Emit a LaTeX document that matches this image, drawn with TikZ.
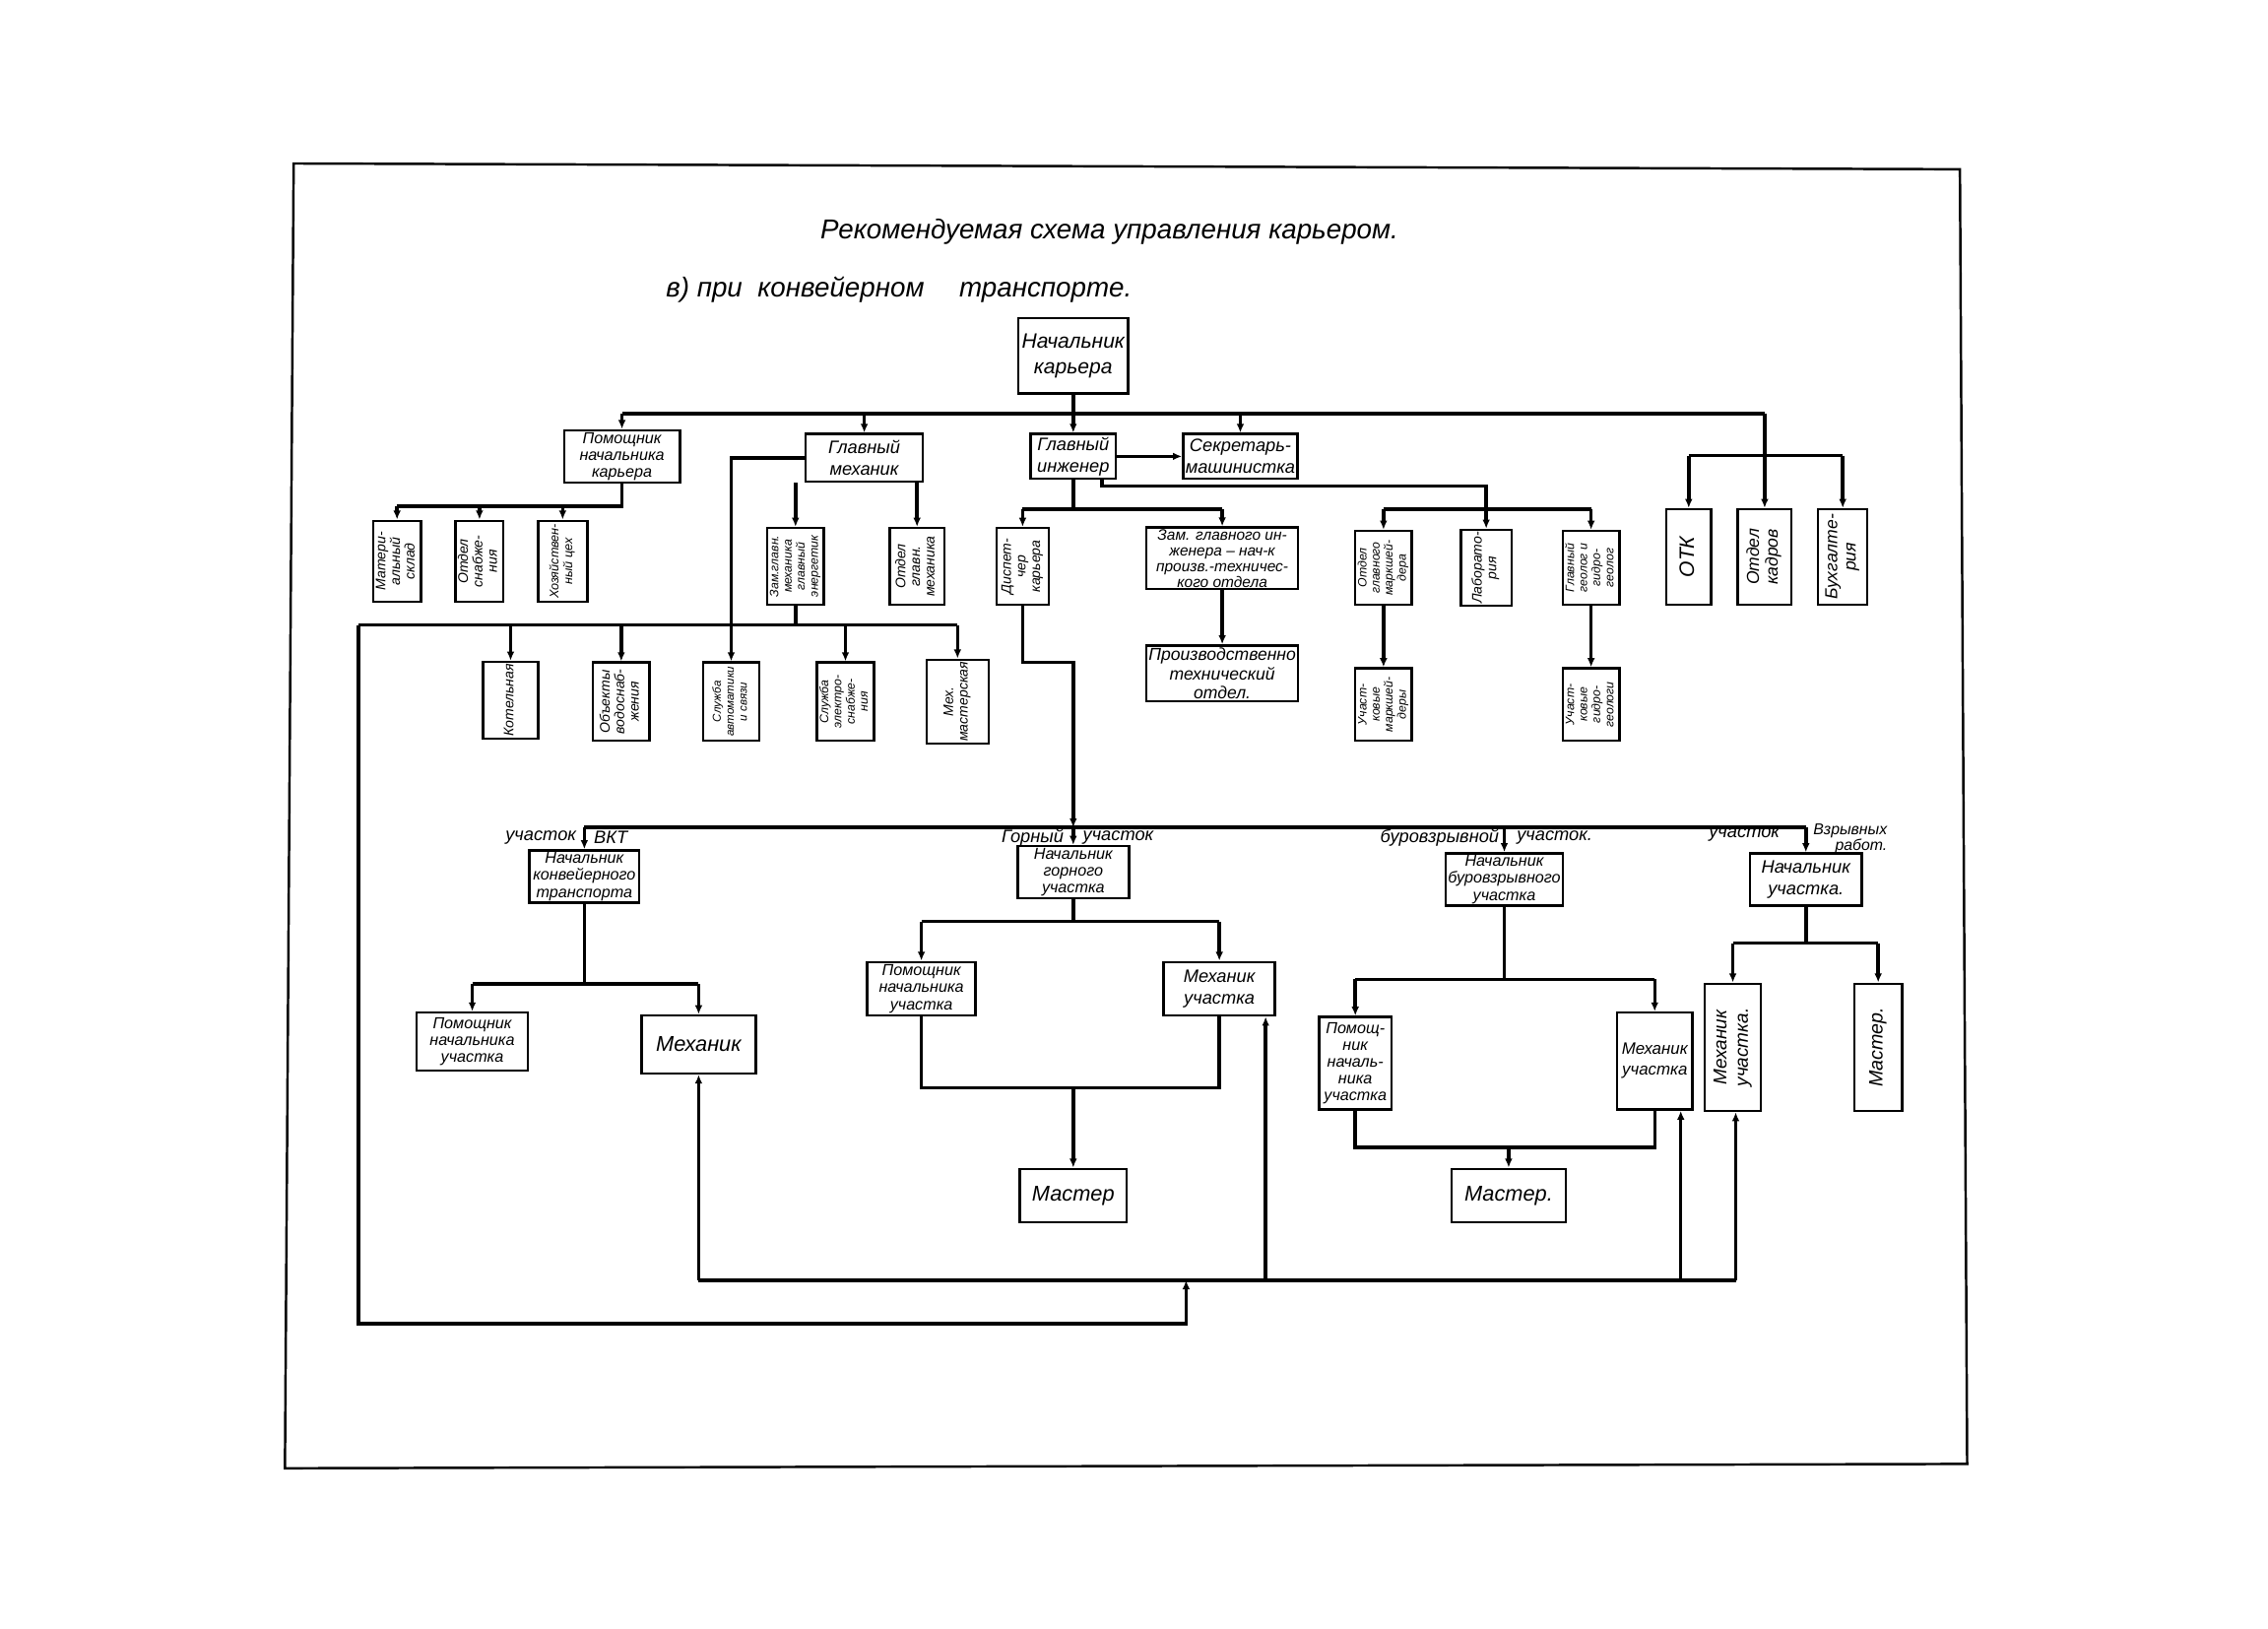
\documentclass[tikz,border=0pt]{standalone}
\usepackage{fontspec}
\setmainfont{Liberation Sans}
\usepackage{graphicx}
\usetikzlibrary{arrows.meta,calc}
\newcommand\vt[1]{\rotatebox{90}{\begin{tabular}{@{}c@{}}#1\end{tabular}}}
\newcommand\fz[2]{\fontsize{#1}{#2}\selectfont\itshape}
\begin{document}
\begin{tikzpicture}[x=0.14688mm, y=-0.14688mm,
  box/.style={draw, line width=0.7pt, inner sep=0.6pt, align=center, font=\fz{5}{5.6}},
  sz/.style 2 args={minimum width=#1*0.14688mm, minimum height=#2*0.14688mm},
  fbig/.style={font=\fz{6}{7.5}},
  fmid/.style={font=\fz{5.2}{6.2}},
  fsm/.style={font=\fz{4.6}{4.9}},
  fvt/.style={font=\fz{4}{4.2}},
  fvs/.style={font=\fz{3.5}{3.8}},
  ln/.style={line width=1pt},
  ar/.style={line width=1pt, -{Latex[length=2.6pt,width=2.2pt]}},
  lab/.style={inner sep=0.5pt, font=\fz{5.2}{5.2}}]
\useasboundingbox (0,0) rectangle (1568,1126);
\draw[line width=0.7pt] (203,113) -- (1355,117) -- (1360,1012) -- (197,1015) -- cycle;

% titles
\node (title) at (767,160) {\fz{7.9}{10}Рекомендуемая схема управления карьером.};
\node[anchor=west,inner sep=0pt] (sub) at (460,200) {\fz{7.9}{10}в)\ при\ \ конвейерном\quad\ транспорте.};

% top level
\node[box,fbig,sz={76}{52}] (N0) at (742,246) {Начальник\\карьера};
\node[box,fsm,sz={80}{35}] (P1) at (430,315.5) {Помощник\\начальника\\карьера};
\node[box,fmid,sz={81}{33}] (GM) at (597.5,316.5) {Главный\\механик};
\node[box,fmid,sz={59}{31}] (GI) at (742,315.5) {Главный\\инженер};
\node[box,fmid,sz={79}{31}] (SM) at (857.5,315.5) {Секретарь-\\машинистка};

\node[box,fbig,sz={31}{66}] (OTK) at (1167.5,385) {\vt{ОТК}};
\node[box,font=\fz{5}{5.4},sz={37}{66}] (OKD) at (1220,385) {\vt{Отдел\\кадров}};
\node[box,font=\fz{5}{5.4},sz={34}{66}] (BUH) at (1274,385) {\vt{Бухгалте-\\рия}};

% under assistant
\node[box,fvt,sz={31}{56}] (A1) at (274.5,388) {\vt{Матери-\\альный\\склад}};
\node[box,fvt,sz={33}{56}] (A2) at (331.5,388) {\vt{Отдел\\снабже-\\ния}};
\node[box,font=\fz{3.6}{4},sz={34}{56}] (A3) at (389,388) {\vt{Хозяйствен-\\ный цех}};

% under chief mechanic
\node[box,fvs,sz={34}{53}] (ZGM) at (550,391.5) {\vt{Зам.главн.\\механика\\главный\\энергетик}};
\node[box,fvt,sz={38}{53}] (OGM) at (634,391.5) {\vt{Отдел\\главн.\\механика}};

\node[box,fvt,sz={38}{52}] (K1) at (353,484) {\vt{Котельная}};
\node[box,fvt,sz={39}{54}] (K2) at (429.5,485) {\vt{Объекты\\водоснаб-\\жения}};
\node[box,font=\fz{3.3}{3.8},sz={39}{54}] (K3) at (505.5,485) {\vt{Служба\\автоматики\\и связи}};
\node[box,fvs,sz={39}{54}] (K4) at (584.5,485) {\vt{Служба\\электро-\\снабже-\\ния}};
\node[box,fvt,sz={43}{54}] (K5) at (662,485) {\vt{Мех.\\мастерская}};

% under chief engineer
\node[box,fvt,sz={36}{53}] (DK) at (707,391.5) {\vt{Диспет-\\чер\\карьера}};
\node[box,font=\fz{4.4}{4.5},sz={105}{42}] (ZGI) at (845,386) {Зам. главного ин-\\женера -- нач-к\\произв.-техничес-\\кого отдела};
\node[box,font=\fz{5}{5.6},sz={105}{37}] (PTO) at (845,465.5) {Производственно\\технический\\отдел.};
\node[box,fvs,sz={39}{51}] (OMG) at (956.5,392.5) {\vt{Отдел\\главного\\маркшей-\\дера}};
\node[box,fvt,sz={35}{51}] (LAB) at (1027.5,392.5) {\vt{Лаборато-\\рия}};
\node[box,fvs,sz={36}{51}] (GG) at (1100,392.5) {\vt{Главный\\геолог и\\гидро-\\геолог}};
\node[box,fvs,sz={39}{50}] (UM) at (956.5,487) {\vt{Участ-\\ковые\\маркшей-\\деры}};
\node[box,fvs,sz={36}{50}] (UG) at (1100,487) {\vt{Участ-\\ковые\\гидро-\\геологи}};

% sections
\node[box,fsm,sz={76}{36}] (NKT) at (404,606) {Начальник\\конвейерного\\транспорта};
\node[box,fsm,sz={77}{36}] (NGU) at (742,603) {Начальник\\горного\\участка};
\node[box,fsm,sz={76}{36}] (NBV) at (1040,608) {Начальник\\буровзрывного\\участка};
\node[box,fmid,sz={77}{36}] (NU) at (1248.5,608) {Начальник\\участка.};

\node[lab,anchor=east] (l1) at (400,579) {участок};
\node[lab,anchor=west] (l2) at (409,579) {ВКТ};
\node[lab,anchor=east] (l3) at (737,579) {Горный};
\node[lab,anchor=west] (l4) at (747,579) {участок};
\node[lab,anchor=east] (l5) at (1038,579) {буровзрывной};
\node[lab,anchor=west] (l6) at (1047,579) {участок.};
\node[lab,anchor=east] (l7) at (1232,577) {участок};
\node[lab,anchor=west,align=right,font=\fz{4.5}{4.6}] (l8) at (1252,580) {Взрывных\\работ.};

\node[box,fsm,sz={77}{40}] (PK) at (326.5,720) {Помощник\\начальника\\участка};
\node[box,font=\fz{6.2}{7},sz={79}{40}] (MK) at (483,722) {Механик};
\node[box,fsm,sz={75}{37}] (PG) at (637,683.5) {Помощник\\начальника\\участка};
\node[box,fmid,sz={77}{37}] (MG) at (843,683.5) {Механик\\участка};
\node[box,font=\fz{6.2}{7},sz={74}{37}] (MAG) at (742,826.5) {Мастер};
\node[box,fsm,sz={50}{64}] (PB) at (937,735) {Помощ-\\ник\\началь-\\ника\\участка};
\node[box,font=\fz{4.8}{6},sz={52}{67}] (MB) at (1144,733.5) {Механик\\участка};
\node[box,font=\fz{6.2}{7},sz={79}{37}] (MAB) at (1043,826.5) {Мастер.};
\node[box,font=\fz{5.4}{6.2},sz={39}{88}] (MV) at (1198,724) {\vt{Механик\\участка.}};
\node[box,font=\fz{5.6}{6.2},sz={33}{88}] (MAV) at (1298.5,724) {\vt{Мастер.}};

% ---- connectors ----
\coordinate (b0L) at (430,286);
\coordinate (b0R) at (1220,286);
\draw[ln] (N0.south) -- (N0.south |- b0L);
\draw[ln] (b0L) -- (b0R);
\draw[ar] (b0L) -- (P1.north);
\draw[ar] (GM.north |- b0L) -- (GM.north);
\draw[ar] (GI.north |- b0L) -- (GI.north);
\draw[ar] (SM.north |- b0L) -- (SM.north);
\draw[ar] (GI.east) -- (SM.west);
\coordinate (b1) at (1220,315);
\draw[ln] (b1 -| OTK.north) -- (b1 -| BUH.north);
\draw[ar] (b0R) -- (OKD.north);
\draw[ar] (b1 -| OTK.north) -- (OTK.north);
\draw[ar] (b1 -| BUH.north) -- (BUH.north);

\coordinate (b2) at (430,350);
\draw[ln] (P1.south) -- (b2) -- (b2 -| A1.north);
\draw[ar] (b2 -| A1.north) -- (A1.north);
\draw[ar] (b2 -| A2.north) -- (A2.north);
\draw[ar] (b2 -| A3.north) -- (A3.north);

\draw[ar] (GM.west) -| (K3.north);
\draw[ar] (GM.south -| ZGM.north) -- (ZGM.north);
\draw[ar] (GM.south -| OGM.north) -- (OGM.north);
\coordinate (b3L) at (248,432);
\coordinate (b3R) at (662,432);
\draw[ln] (ZGM.south) -- (ZGM.south |- b3L);
\draw[ln] (b3L) -- (b3R);
\draw[ar] (b3L -| K1.north) -- (K1.north);
\draw[ar] (b3L -| K2.north) -- (K2.north);
\draw[ar] (b3L -| K4.north) -- (K4.north);
\draw[ar] (b3R) -- (K5.north);

\coordinate (b4) at (742,352);
\draw[ln] (GI.south) -- (b4);
\draw[ln] (b4 -| DK.north) -- (b4 -| ZGI.north);
\draw[ar] (b4 -| DK.north) -- (DK.north);
\draw[ar] (b4 -| ZGI.north) -- (ZGI.north);
\draw[ar] (ZGI.south) -- (PTO.north);
\coordinate (gr) at (762,336);
\coordinate (b5) at (1027.5,352);
\draw[ln] (GI.south -| gr) -- (gr) -- (gr -| b5) -- (b5);
\draw[ln] (b5 -| OMG.north) -- (b5 -| GG.north);
\draw[ar] (b5 -| OMG.north) -- (OMG.north);
\draw[ar] (b5) -- (LAB.north);
\draw[ar] (b5 -| GG.north) -- (GG.north);
\draw[ar] (OMG.south) -- (UM.north);
\draw[ar] (GG.south) -- (UG.north);

\coordinate (d1) at (707,458);
\coordinate (b6) at (742,572);
\coordinate (b6L) at (404,572);
\coordinate (b6R) at (1248.5,572);
\draw[ar] (DK.south) -- (d1) -- (d1 -| b6) -- (b6);
\draw[ln] (b6L) -- (b6R);
\draw[ar] (b6L) -- (NKT.north);
\draw[ar] (b6) -- (NGU.north);
\draw[ar] (b6 -| NBV.north) -- (NBV.north);
\draw[ar] (b6R) -- (NU.north);

\coordinate (b7) at (404,680);
\draw[ln] (NKT.south) -- (b7);
\draw[ln] (b7 -| PK.north) -- (b7 -| MK.north);
\draw[ar] (b7 -| PK.north) -- (PK.north);
\draw[ar] (b7 -| MK.north) -- (MK.north);

\coordinate (b8) at (742,637);
\draw[ln] (NGU.south) -- (b8);
\draw[ln] (b8 -| PG.north) -- (b8 -| MG.north);
\draw[ar] (b8 -| PG.north) -- (PG.north);
\draw[ar] (b8 -| MG.north) -- (MG.north);
\coordinate (b9) at (742,752);
\draw[ln] (PG.south) -- (PG.south |- b9) -- (MG.south |- b9) -- (MG.south);
\draw[ar] (b9) -- (MAG.north);

\coordinate (b10) at (1040,677);
\draw[ln] (NBV.south) -- (b10);
\draw[ln] (b10 -| PB.north) -- (b10 -| MB.north);
\draw[ar] (b10 -| PB.north) -- (PB.north);
\draw[ar] (b10 -| MB.north) -- (MB.north);
\coordinate (b11) at (1043,793);
\draw[ln] (PB.south) -- (PB.south |- b11) -- (MB.south |- b11) -- (MB.south);
\draw[ar] (b11) -- (MAB.north);

\coordinate (b12) at (1248.5,652);
\draw[ln] (NU.south) -- (b12);
\draw[ln] (b12 -| MV.north) -- (b12 -| MAV.north);
\draw[ar] (b12 -| MV.north) -- (MV.north);
\draw[ar] (b12 -| MAV.north) -- (MAV.north);

% feedback loop of mechanics
\coordinate (lp0) at (483,885);
\coordinate (lp1) at (875,885);
\coordinate (lp2) at (1162,885);
\coordinate (lp3) at (1200,885);
\draw[ln] (lp0) -- (lp3);
\draw[ar] (lp0) -- (MK.south);
\draw[ar] (lp1) -- (lp1 |- MG.south);
\draw[ar] (lp2) -- (lp2 |- MB.south);
\draw[ar] (lp3) -- (lp3 |- MV.south);
\coordinate (lq) at (820,915);
\draw[ar] (b3L) |- (lq) -- (lq |- lp0);
\end{tikzpicture}
\end{document}
